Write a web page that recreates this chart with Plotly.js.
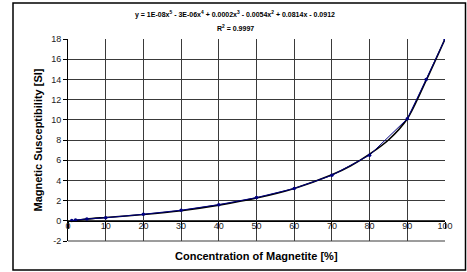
<!DOCTYPE html>
<html><head><meta charset="utf-8">
<script src="https://cdn.plot.ly/plotly-3.0.1.min.js"></script>
<style>html,body{margin:0;padding:0;background:#fff}#chart{width:467px;height:272px}</style>
</head><body><div id="chart"></div>
<script>
const concentration = [1, 2, 5, 10, 20, 30, 40, 50, 60, 70, 80, 90, 95, 100];
const susceptibility = [0.02, 0.08, 0.18, 0.3, 0.65, 1.05, 1.6, 2.3, 3.2, 4.5, 6.5, 10.1, 14.0, 18.0];
const trendX = [1, 5, 10, 20, 30, 40, 50, 60, 70, 75, 80, 85, 90, 95, 100];
const trendY = [-0.02, 0.18, 0.33, 0.62, 1.0, 1.55, 2.25, 3.2, 4.55, 5.45, 6.6, 8.0, 10.1, 13.9, 18.0];
const xTicks = [0, 10, 20, 30, 40, 50, 60, 70, 80, 90, 100];
const yTicks = [-2, 0, 2, 4, 6, 8, 10, 12, 14, 16, 18];
const xTitle = 'Concentration of Magnetite [%]';
const yTitle = 'Magnetic Susceptibility [SI]';
const equation = 'y = 1E-08x<sup>5</sup> - 3E-06x<sup>4</sup> + 0.0002x<sup>3</sup> - 0.0054x<sup>2</sup> + 0.0814x - 0.0912';
const rSquared = 'R<sup>2</sup> = 0.9997';

const W = 467, H = 272, L = 68, R = 22, T = 39, B = 31;
const pw = W - L - R, ph = H - T - B;
const px = v => (v - L) / pw;
const py = v => (H - B - v) / ph;

const traces = [
  {x: trendX, y: trendY, type: 'scatter', mode: 'lines', line: {color: '#000000', width: 1.6, shape: 'spline', smoothing: 0.8}, hoverinfo: 'skip'},
  {x: concentration, y: susceptibility, type: 'scatter', mode: 'lines+markers',
   line: {color: '#000080', width: 1}, marker: {color: '#000080', size: 3.5}}
];
const layout = {
  width: W, height: H, margin: {l: L, r: R, t: T, b: B},
  paper_bgcolor: '#ffffff', plot_bgcolor: '#ffffff', showlegend: false,
  font: {family: 'Liberation Sans, Arial, sans-serif', color: '#000'},
  xaxis: {range: [0, 100], tickvals: xTicks, ticktext: xTicks.map(String),
    anchor: 'free', position: 0.1, showline: true, linecolor: '#000', linewidth: 1,
    ticks: 'outside', ticklen: 7, tickcolor: '#000', ticklabelstandoff: -11,
    showgrid: true, gridcolor: '#3a3a3a', gridwidth: 1, zeroline: false,
    tickfont: {size: 9, color: '#222'}},
  yaxis: {range: [-2, 18], tickvals: yTicks, ticktext: yTicks.map(String),
    showline: true, linecolor: '#000', linewidth: 1, ticks: 'outside', ticklen: 4, tickcolor: '#000',
    showgrid: true, gridcolor: '#3a3a3a', gridwidth: 1, zeroline: false,
    tickfont: {size: 9, color: '#222'},
    title: {text: '<b>' + yTitle + '</b>', font: {size: 11}, standoff: 6}},
  shapes: [
    {type: 'rect', xref: 'paper', yref: 'paper', x0: px(13), x1: px(465.5), y0: py(270), y1: py(3),
     line: {color: '#000', width: 1.5}, fillcolor: 'rgba(0,0,0,0)', layer: 'below'},
    {type: 'line', xref: 'paper', yref: 'paper', x0: 0, x1: 1, y0: 0, y1: 0, line: {color: '#3a3a3a', width: 1}}
  ],
  annotations: [
    {xref: 'paper', yref: 'paper', x: px(235), y: py(15), text: '<b>' + equation + '</b>', showarrow: false,
     font: {size: 7}, xanchor: 'center', yanchor: 'middle'},
    {xref: 'paper', yref: 'paper', x: px(235), y: py(28), text: '<b>' + rSquared + '</b>', showarrow: false,
     font: {size: 7}, xanchor: 'center', yanchor: 'middle'},
    {xref: 'paper', yref: 'paper', x: 0.5, y: py(256), text: '<b>' + xTitle + '</b>', showarrow: false,
     font: {size: 11}, xanchor: 'center', yanchor: 'middle'}
  ]
};
Plotly.newPlot('chart', traces, layout, {staticPlot: true, displayModeBar: false});
</script></body></html>
